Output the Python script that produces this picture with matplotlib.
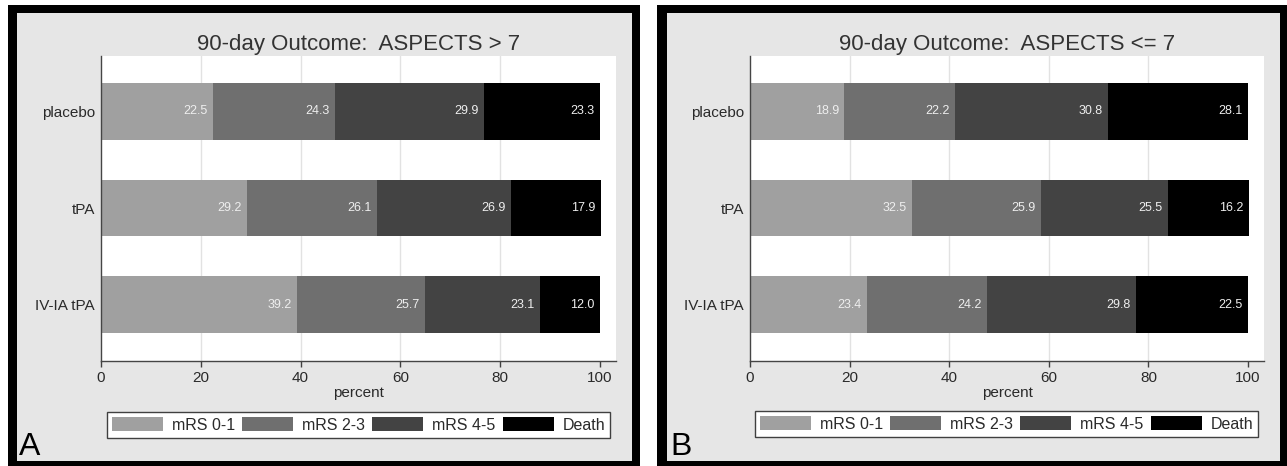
import matplotlib
matplotlib.use('Agg')
import matplotlib.pyplot as plt
from matplotlib.patches import Rectangle
import numpy as np

plt.rcParams['font.family'] = ['Liberation Sans', 'DejaVu Sans']

# data
categories = ['placebo', 'tPA', 'IV-IA tPA']
outcomes = ['mRS 0-1', 'mRS 2-3', 'mRS 4-5', 'Death']

gt7_mrs01 = [22.5, 29.2, 39.2]
gt7_mrs23 = [24.3, 26.1, 25.7]
gt7_mrs45 = [29.9, 26.9, 23.1]
gt7_death = [23.3, 17.9, 12.0]

le7_mrs01 = [18.9, 32.5, 23.4]
le7_mrs23 = [22.2, 25.9, 24.2]
le7_mrs45 = [30.8, 25.5, 29.8]
le7_death = [28.1, 16.2, 22.5]

xticks = [0, 20, 40, 60, 80, 100]

colors = ['#a0a0a0', '#6f6f6f', '#434343', '#000000']
W, H = 1287, 466


def fx(px):
    return px / W


def fy(py):
    return 1 - py / H


fig = plt.figure(figsize=(W / 100, H / 100), dpi=100, facecolor='white')

# panel frames (black border, grey inner background)
panels = [
    dict(outer=(8, 5, 640, 466), inner=(17, 13, 632, 461), ax=(101, 56, 616, 361),
         leg=(107, 411, 610, 439), letter='A', lx=19,
         title='90-day Outcome:  ASPECTS > 7',
         data=[gt7_mrs01, gt7_mrs23, gt7_mrs45, gt7_death]),
    dict(outer=(657, 5, 1287, 466), inner=(667, 13, 1280, 461), ax=(750, 56, 1264, 361),
         leg=(755, 410, 1258, 438), letter='B', lx=670,
         title='90-day Outcome:  ASPECTS <= 7',
         data=[le7_mrs01, le7_mrs23, le7_mrs45, le7_death]),
]

for p in panels:
    x0, y0, x1, y1 = p['outer']
    fig.add_artist(Rectangle((fx(x0), fy(y1)), fx(x1 - x0), (y1 - y0) / H,
                             transform=fig.transFigure, facecolor='black',
                             edgecolor='none', zorder=0))
    x0, y0, x1, y1 = p['inner']
    fig.add_artist(Rectangle((fx(x0), fy(y1)), fx(x1 - x0), (y1 - y0) / H,
                             transform=fig.transFigure, facecolor='#e6e6e6',
                             edgecolor='none', zorder=0.5))

    ax0, ay0, ax1, ay1 = p['ax']
    ax = fig.add_axes([fx(ax0), fy(ay1), fx(ax1 - ax0), (ay1 - ay0) / H])
    ax.set_facecolor('white')
    ax.set_zorder(2)

    y = np.arange(len(categories))
    left = np.zeros(len(categories))
    for vals, name, col in zip(p['data'], outcomes, colors):
        vals = np.array(vals)
        ax.barh(y, vals, left=left, height=0.59, color=col, label=name,
                linewidth=0, zorder=2)
        for yi, l, v in zip(y, left, vals):
            ax.annotate(f'{v:.1f}', (l + v, yi), xytext=(-3.8, 0),
                        textcoords='offset points', ha='right', va='center',
                        fontsize=9, color='#eeeeee', zorder=3)
        left = left + vals

    for gx in [20, 40, 60, 80]:
        ax.axvline(gx, color='#e2e2e2', linewidth=1, zorder=1)

    ax.set_xlim(0, 103.2)
    ax.set_ylim(2.585, -0.575)
    ax.set_yticks(y)
    ax.set_yticklabels(categories, fontsize=11, color='#2a2a2a')
    ax.set_xticks(xticks)
    ax.set_xticklabels([str(t) for t in xticks], fontsize=11, color='#2a2a2a')
    ax.tick_params(axis='y', length=0, pad=4.5)
    ax.tick_params(axis='x', length=4, width=1, color='#404040', pad=3.5)
    for s in ['top', 'right']:
        ax.spines[s].set_visible(False)
    for s in ['left', 'bottom']:
        ax.spines[s].set_color('#454545')
        ax.spines[s].set_linewidth(1)
    ax.set_xlabel('percent', fontsize=11, color='#2a2a2a', labelpad=0.5)
    ax.set_title(p['title'], fontsize=16, color='#333333', pad=4.3)

    lx0, ly0, lx1, ly1 = p['leg']
    leg = ax.legend(loc='center', ncol=4, mode='expand',
                    bbox_to_anchor=(fx(lx0), fy(ly1), fx(lx1 - lx0), (ly1 - ly0) / H),
                    bbox_transform=fig.transFigure, fontsize=11.5, frameon=True,
                    fancybox=False, framealpha=1, edgecolor='#404040',
                    handlelength=3.2, handleheight=1.0, handletextpad=0.55,
                    columnspacing=0.7, borderpad=0.3, borderaxespad=0)
    leg.get_frame().set_linewidth(1)
    for t in leg.get_texts():
        t.set_color('#2a2a2a')

    fig.text(fx(p['lx']), fy(455), p['letter'], fontsize=23, color='black',
             ha='left', va='baseline', zorder=5)

fig.savefig('out.png', dpi=100, facecolor='white')
